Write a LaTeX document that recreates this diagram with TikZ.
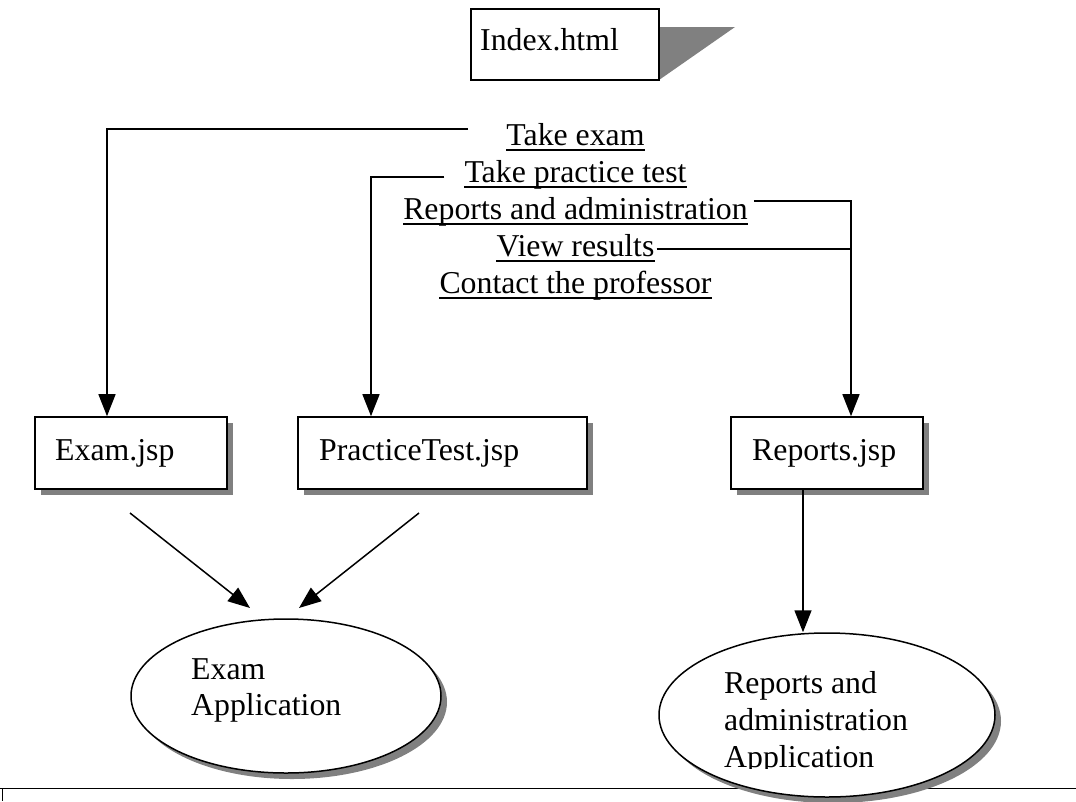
\documentclass[tikz,border=0pt]{standalone}
\usepackage{fontspec}
\setmainfont{Liberation Serif}
\usetikzlibrary{arrows.meta,shapes.geometric,shadows}
\begin{document}
\begin{tikzpicture}[x=1pt,y=-1pt,
  font=\fontsize{31.8}{37}\selectfont,
  shad/.style={drop shadow={shadow xshift=6pt,shadow yshift=-6pt,opacity=1,fill=black!50}},
  pagebox/.style={draw,line width=1.6pt,fill=white,minimum height=72pt,inner sep=0pt,shad},
  appell/.style={ellipse,draw,line width=1.5pt,fill=white,inner sep=0pt,shad},
  txt/.style={anchor=base west,inner sep=0pt},
  lnk/.style={anchor=base,inner sep=0pt},
  ulin/.style={line width=1.6pt},
  conn/.style={line width=1.5pt},
  arr/.style={conn,-{Triangle[length=22pt,width=17pt]}}
]
\useasboundingbox (0,0) rectangle (1076,801);

% Index.html with its grey wedge
\fill[black!50] (659,27) -- (735,27) -- (659,80) -- cycle;
\node[draw,line width=1.6pt,fill=white,minimum width=188pt,minimum height=71pt,inner sep=0pt] (index) at (565,44.5) {};
\node[txt] (indext) at (480,50) {Index.html};

% links
\node[lnk] (l1) at (575.5,145) {Take exam};
\node[lnk] (l2) at (575.5,182) {Take practice test};
\node[lnk] (l3) at (575.5,219) {Reports and administration};
\node[lnk] (l4) at (575.5,256) {View results};
\node[lnk] (l5) at (575.5,293) {Contact the professor};
\foreach \n in {l1,l2,l3,l4,l5}
  \draw[ulin] ([yshift=-5pt]\n.base west) -- ([yshift=-5pt]\n.base east);

% jsp pages
\node[pagebox,minimum width=192pt] (exam) at (131,453) {};
\node[txt] (examt) at (55,460) {Exam.jsp};
\node[pagebox,minimum width=289pt] (prac) at (442.5,453) {};
\node[txt] (pract) at (319,460) {PracticeTest.jsp};
\node[pagebox,minimum width=192pt] (rep) at (827,453) {};
\node[txt] (rept) at (752,460) {Reports.jsp};

% bottom rule
\draw[line width=1pt] (0,788) -- (1076,788);
\draw[line width=1pt] (2,788) -- (2,801);

% applications
\node[appell,minimum width=310pt,minimum height=154pt] (examapp) at (286,696) {};
\node[txt] (ea1) at (191,679) {Exam};
\node[txt] (ea2) at (191,715) {Application};
\node[appell,minimum width=336pt,minimum height=164pt] (repapp) at (827,715) {};
\node[txt] (ra1) at (724,693) {Reports and};
\node[txt] (ra2) at (724,730) {administration};
\begin{scope}
  \clip (0,0) rectangle (1076,768);
  \node[txt] (ra3) at (724,767) {Application};
\end{scope}

% connectors
\coordinate (c1) at ([xshift=-38pt,yshift=16pt]l1.base west);
\coordinate (c2) at ([xshift=-20pt,yshift=5pt]l2.base west);
\coordinate (c3) at ([xshift=6pt,yshift=18pt]l3.base east);
\coordinate (c4) at ([xshift=2pt,yshift=7pt]l4.base east);
\coordinate (rj) at ([xshift=24pt]rep.north);
\draw[arr] (c1) -| ([xshift=-24pt]exam.north);
\draw[arr] (c2) -| ([xshift=-71.5pt]prac.north);
\draw[arr] (c3) -| (rj);
\draw[conn] (c4) -- (c4 -| rj);

\coordinate (d1) at (130,513);
\coordinate (d2) at (250,608);
\coordinate (e1) at (419,513);
\coordinate (e2) at (299,608);
\draw[arr] (d1) -- (d2);
\draw[arr] (e1) -- (e2);
\coordinate (rs) at ([xshift=-24pt]rep.south);
\draw[arr] (rs) -- (rs |- repapp.north);
\end{tikzpicture}
\end{document}
